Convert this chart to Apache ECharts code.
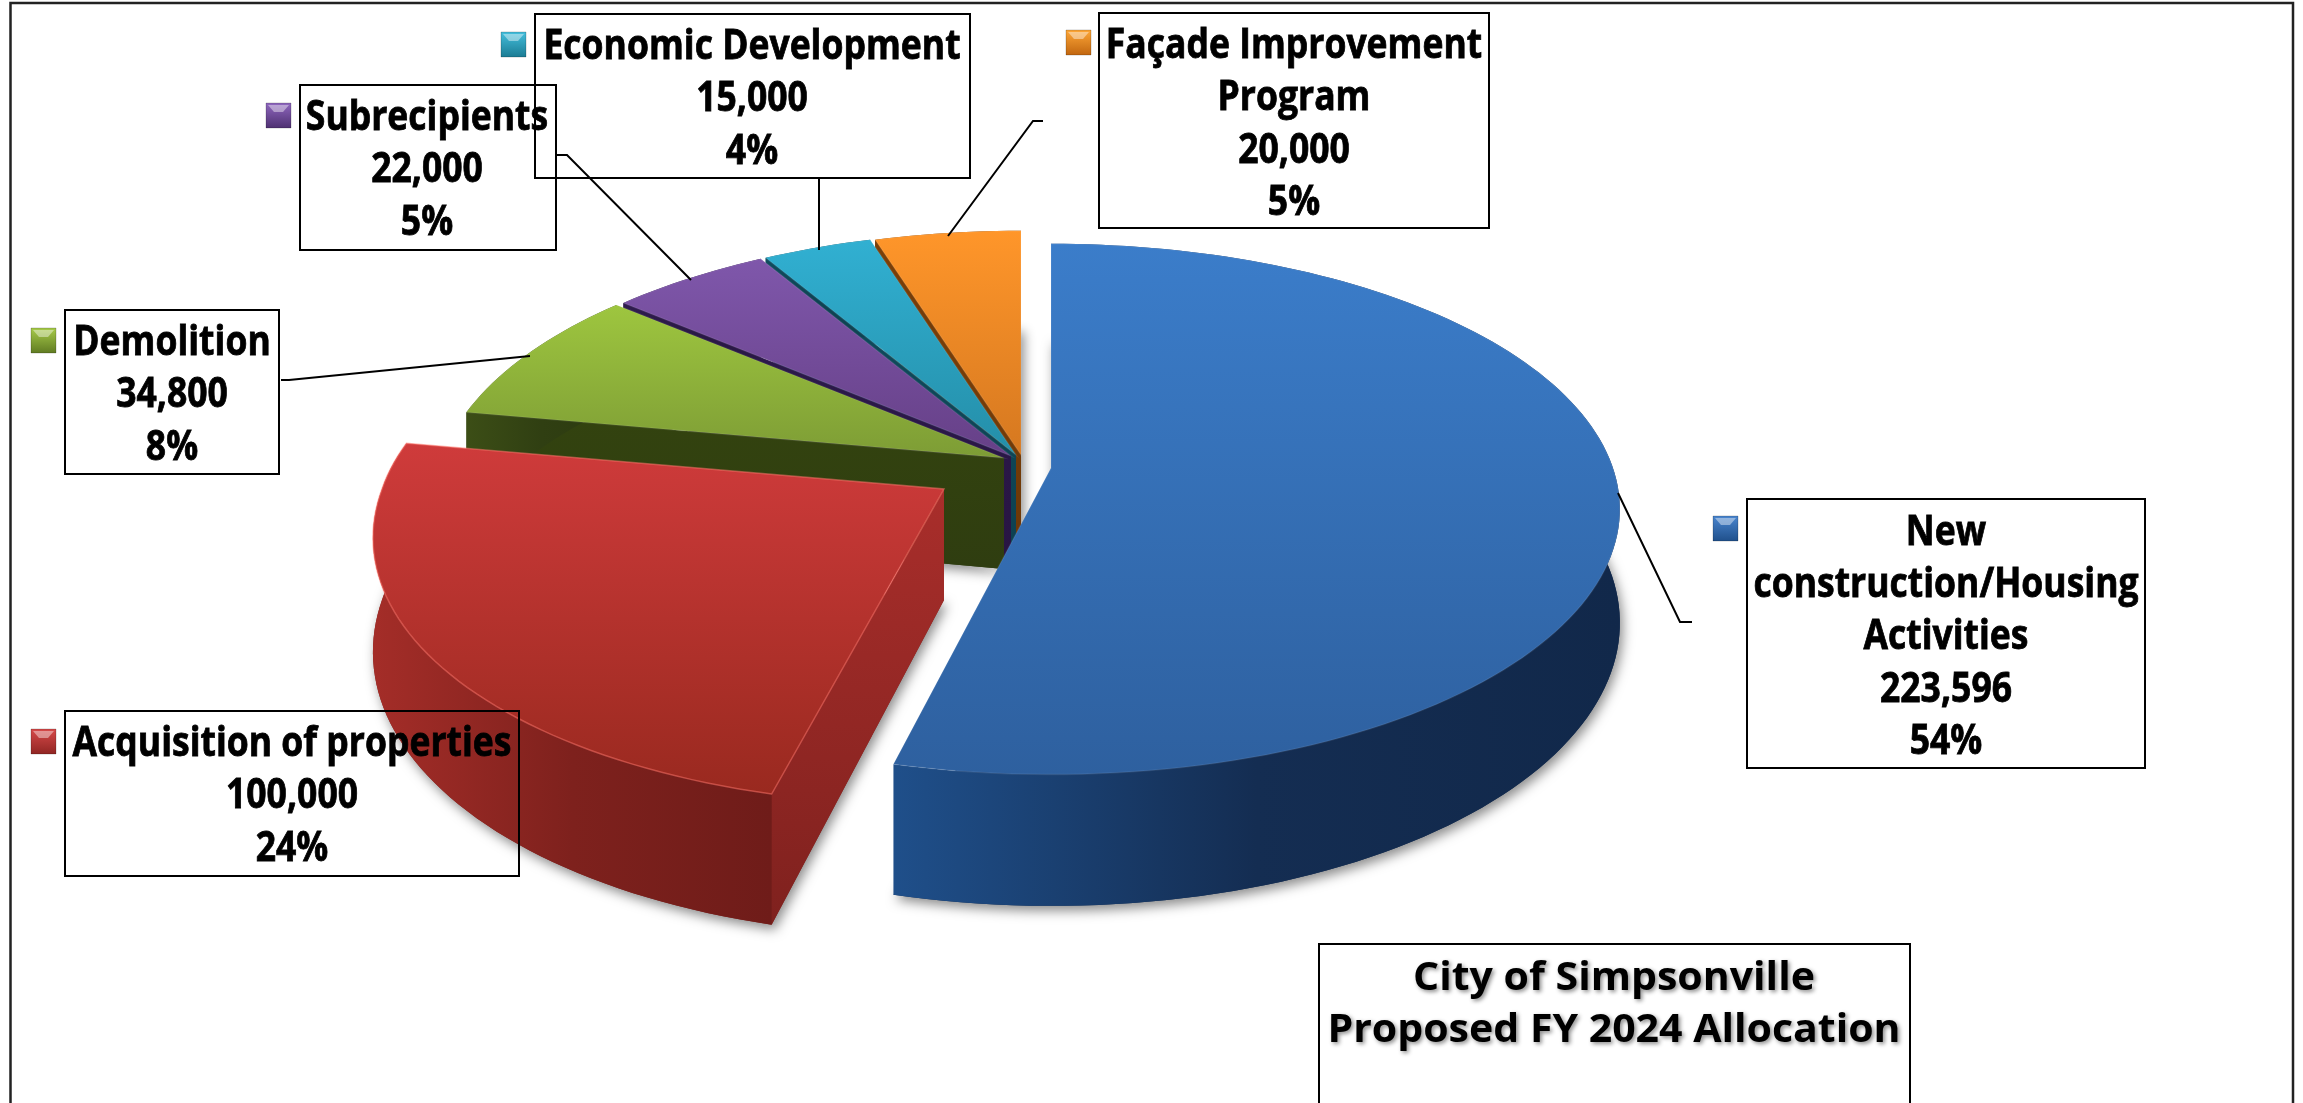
<!DOCTYPE html>
<html>
<head>
<meta charset="utf-8">
<script src="https://cdn.jsdelivr.net/npm/echarts@6/dist/echarts.min.js"></script>
<style>html,body{margin:0;padding:0;background:#fff}#c{width:2303px;height:1103px}</style>
</head>
<body>
<div id="c"></div>
<script>
// ---- data ----
const categories = ['New\nconstruction/Housing\nActivities', 'Acquisition of properties', 'Demolition', 'Subrecipients', 'Economic Development', 'Façade Improvement\nProgram'];
const values = [223596, 100000, 34800, 22000, 15000, 20000];
const titleLines = ['City of Simpsonville', 'Proposed FY 2024 Allocation'];

// ---- 3D pie geometry (perspective-projected disc) ----
const R = 562, RY = 259, P = 0.155, DEPTH = 111;
const apexes = [[1051, 468], [944, 489], [1004, 458], [1011, 456], [1016, 455], [1021, 455]];
const lowerSkew = [0, 0.05, 0, 0, 0, 0];
const lowerStretch = [1, 1.03, 1, 1, 1, 1];
const drawOrder = [6, 7, 4, 3, 2, 1]; // paint priority per slice

// ---- styles ----
const topFill = [['#3b7dca', '#2e609f'], ['#cf3b3b', '#99291f'], ['#9ec63f', '#7d9c35'], ['#7f57ab', '#664087'], ['#31b0d2', '#248ea8'], ['#ff962a', '#d57820']];
const wallFill = [['#1f4f8a', '#142d52', '#11284a'], ['#a42d28', '#7e211d', '#6f1c19'], ['#3c4e16', '#303f12', '#2c3a10'], ['#2f1c4e', '#2a1846', '#2a1846'], ['#0f4c5e', '#0e4353', '#0e4353'], ['#7c4008', '#713a08', '#713a08']];
const startFill = [['#1f4f8a', '#142d52'], ['#a92e2b', '#7f211e'], ['#33430f', '#2f3d10'], ['#2d1a4c', '#281543'], ['#0f4d5f', '#0d4050'], ['#7c4008', '#6c3707']];
const rim = ['rgba(255,255,255,0.08)', 'rgba(255,120,110,0.5)', 'rgba(255,255,255,0.08)', 'rgba(255,255,255,0.08)', 'rgba(255,255,255,0.08)', 'rgba(255,255,255,0.08)'];
const swatchFill = [['#4a86d0', '#1f4f8a'], ['#d84a4a', '#8f2522'], ['#a8cc4a', '#5f7a22'], ['#9068c0', '#4d2f70'], ['#45c0de', '#1a7a92'], ['#ffa838', '#c0650f']];

// ---- label layout: box [x0,y0,x1,y1], text centre [x,y], swatch [x,y], leader polyline ----
const boxes = [[1747, 499, 2145, 768], [65, 711, 519, 876], [65, 310, 279, 474], [300, 85, 556, 250], [535, 14, 970, 178], [1099, 13, 1489, 228]];
const textAt = [[1946, 638], [292, 797], [172, 396], [427, 171], [752, 100], [1294, 125]];
const swatchAt = [[1713, 516], [31, 729], [31, 328], [266, 103], [501, 32], [1066, 30]];
const leaders = [
  [[1618, 493], [1680, 622], [1692, 622]],
  null,
  [[530, 356], [289, 380], [281, 380]],
  [[691, 280], [567, 155], [556, 155]],
  [[819, 250], [819, 178]],
  [[948, 236], [1033, 121], [1043, 121]]
];

const total = values.reduce((a, b) => a + b, 0);
const starts = [];
values.reduce((acc, v, i) => { starts[i] = acc / total; return acc + v; }, 0);

function pt(i, frac, drop) {
  const apex = apexes[i];
  const a = frac * Math.PI * 2, u = Math.sin(a), v = -Math.cos(a), w = 1 - P * v;
  let dy = RY * v / w;
  const sk = dy > 0 ? lowerSkew[i] * dy : 0;
  if (dy > 0) dy *= lowerStretch[i];
  return [apex[0] + R * u / w - sk, apex[1] + dy + (drop ? DEPTH / w : 0)];
}
function arc(i, f0, f1, drop) {
  const n = Math.max(8, Math.ceil((f1 - f0) * 240)), out = [];
  for (let k = 0; k <= n; k++) out.push(pt(i, f0 + (f1 - f0) * k / n, drop));
  return out;
}
function grad(x0, y0, x1, y1, cols) {
  return new echarts.graphic.LinearGradient(x0, y0, x1, y1, cols.map((c, i) => ({ offset: i / (cols.length - 1), color: c })));
}

function renderSlice(params, api) {
  const i = params.dataIndex;
  const f0 = starts[i], f1 = f0 + api.value(0) / total;
  const apex = apexes[i], apexLow = [apex[0], apex[1] + DEPTH];
  const z = drawOrder[i] * 10;
  const topArc = arc(i, f0, f1, false), lowArc = arc(i, f0, f1, true);
  const kids = [];
  // floor with soft drop shadow
  kids.push({ type: 'polygon', z2: z, shape: { points: lowArc.concat([apexLow]) },
    style: { fill: wallFill[i][1], shadowBlur: 12, shadowColor: 'rgba(0,0,0,0.45)', shadowOffsetX: 3, shadowOffsetY: 5 } });
  // radial wall at the slice's leading edge
  kids.push({ type: 'polygon', z2: z + 1, shape: { points: [apex, topArc[0], lowArc[0], apexLow] },
    style: { fill: grad(0, 0, 0, 1, startFill[i]) } });
  // outer wall
  kids.push({ type: 'polygon', z2: z + 2, shape: { points: topArc.concat(lowArc.slice().reverse()) },
    style: { fill: grad(0, 0, 1, 0, wallFill[i]) } });
  // top face
  kids.push({ type: 'polygon', z2: z + 3, shape: { points: topArc.concat([apex]) },
    style: { fill: grad(0, 0, 0, 1, topFill[i]), stroke: rim[i], lineWidth: 1.5 } });

  // leader line
  if (leaders[i]) kids.push({ type: 'polyline', z2: 1000, shape: { points: leaders[i] },
    style: { fill: 'none', stroke: '#000', lineWidth: 2 } });
  // label box (transparent, as in the original)
  const b = boxes[i];
  kids.push({ type: 'rect', z2: 1001, shape: { x: b[0], y: b[1], width: b[2] - b[0], height: b[3] - b[1] },
    style: { fill: 'none', stroke: '#000', lineWidth: 2 } });
  // legend key
  const s = swatchAt[i];
  kids.push({ type: 'rect', z2: 1002, shape: { x: s[0], y: s[1], width: 25, height: 25 },
    style: { fill: grad(0, 0, 0, 1, swatchFill[i]), stroke: 'rgba(0,0,0,0.2)', lineWidth: 1 } });
  kids.push({ type: 'polygon', z2: 1003, shape: { points: [[s[0] + 2, s[1] + 2], [s[0] + 23, s[1] + 2], [s[0] + 17, s[1] + 9], [s[0] + 8, s[1] + 9]] },
    style: { fill: 'rgba(255,255,255,0.42)' } });
  // label text
  const pct = Math.round(api.value(0) / total * 100) + '%';
  const txt = categories[i] + '\n' + api.value(0).toLocaleString('en-US') + '\n' + pct;
  kids.push({ type: 'text', z2: 1004, x: textAt[i][0], y: textAt[i][1], scaleX: 1.015, scaleY: 1.15,
    style: { text: txt, fill: '#000', align: 'center', verticalAlign: 'middle', stroke: '#000', lineWidth: 0.7,
      font: 'bold 35px "Open Sans", sans-serif', lineHeight: 45.6 } });
  return { type: 'group', children: kids };
}

const chart = echarts.init(document.getElementById('c'), null, { renderer: 'canvas', width: 2303, height: 1103 });
chart.setOption({
  backgroundColor: '#fff',
  animation: false,
  graphic: [
    { type: 'polyline', silent: true, shape: { points: [[10.5, 1103], [10.5, 3], [2293, 3], [2293, 1103]] }, style: { fill: 'none', stroke: '#222', lineWidth: 2.5 } },
    { type: 'rect', silent: true, shape: { x: 1319, y: 944, width: 591, height: 170 }, style: { fill: '#fff', stroke: '#000', lineWidth: 2 } },
    { type: 'text', silent: true, x: 1614, y: 1005, scaleX: 1.14, scaleY: 1.08, style: { text: titleLines.join('\n'), fill: '#000', align: 'center', verticalAlign: 'middle',
        font: 'bold 36px "Open Sans", sans-serif', lineHeight: 48.5, textShadowColor: 'rgba(0,0,0,0.45)', textShadowBlur: 4, textShadowOffsetX: 2, textShadowOffsetY: 2 } }
  ],
  series: [{
    type: 'custom',
    coordinateSystem: 'none',
    name: 'FY 2024 Allocation',
    clip: false,
    renderItem: renderSlice,
    data: values.map((v, i) => ({ name: categories[i].replace(/\n/g, ' '), value: v }))
  }]
});
</script>
</body>
</html>
